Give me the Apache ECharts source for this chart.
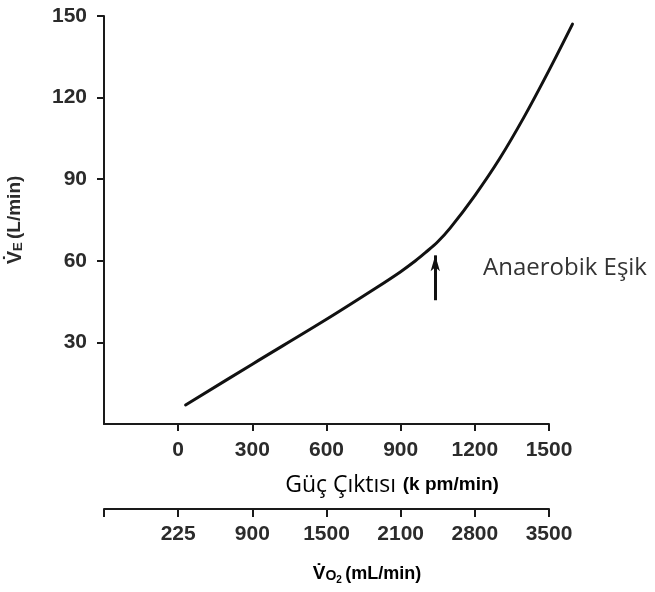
<!DOCTYPE html>
<html>
<head>
<meta charset="utf-8">
<script src="https://cdn.jsdelivr.net/npm/echarts@6/dist/echarts.min.js"></script>
<style>
  html, body { margin: 0; padding: 0; background: #fff; }
  #chart { width: 655px; height: 592px; }
</style>
</head>
<body>
<div id="chart"></div>
<script>
// Work-rate ticks (kpm/min) and the matching VO2 labels (mL/min) on the second scale
const powerTicks = [0, 300, 600, 900, 1200, 1500];
const vo2Labels = ['225', '900', '1500', '2100', '2800', '3500'];
const veTicks = [30, 60, 90, 120, 150];

// Ventilation curve: work rate (kpm/min) vs VE (L/min)
const workRate    = [30, 300, 600, 800, 900, 960, 1000, 1050, 1100, 1200, 1300, 1400, 1500, 1595];
const ventilation = [7, 22, 38.5, 50, 56, 60, 63, 67, 72, 84, 97.5, 113, 130, 147];

// Arrow marking the anaerobic threshold: x position, bottom and tip (L/min)
const thresholdX = [1040];
const thresholdY = [45.5, 62];

const ink = '#1a1a1a';
const textInk = '#2b2b2b';
const tickFont = { fontFamily: 'Liberation Sans', fontWeight: 'bold', fontSize: 21, color: textInk };

const chart = echarts.init(document.getElementById('chart'), null, { renderer: 'canvas' });

chart.setOption({
  animation: false,
  backgroundColor: '#fff',
  grid: { left: 104, right: 106, top: 16, bottom: 168, outerBoundsMode: 'none', containLabel: false },
  xAxis: [
    {
      type: 'value', min: -300, max: 1500, interval: 300, position: 'bottom',
      splitLine: { show: false },
      axisLine: { lineStyle: { color: ink, width: 2 } },
      axisTick: { customValues: powerTicks, length: 7, lineStyle: { color: ink, width: 2 } },
      axisLabel: Object.assign({ customValues: powerTicks, margin: 16,
        formatter: v => (v < 0 ? '' : String(v)) }, tickFont)
    },
    {
      type: 'value', min: -300, max: 1500, interval: 300, position: 'bottom', offset: 85,
      splitLine: { show: false },
      axisLine: { onZero: false, lineStyle: { color: ink, width: 2 } },
      axisTick: { length: 8, lineStyle: { color: ink, width: 2 } },
      axisLabel: Object.assign({ margin: 15,
        formatter: v => { const i = powerTicks.indexOf(v); return i < 0 ? '' : vo2Labels[i]; } }, tickFont)
    }
  ],
  yAxis: {
    type: 'value', min: 0, max: 150, interval: 30,
    splitLine: { show: false },
    axisLine: { onZero: false, lineStyle: { color: ink, width: 2 } },
    axisTick: { customValues: veTicks, length: 7, lineStyle: { color: ink, width: 2 } },
    axisLabel: Object.assign({ customValues: veTicks, margin: 17 }, tickFont),
    name: '{v|V̇}{s|E} {u|(L/min)}',
    nameLocation: 'middle',
    nameRotate: 90,
    nameGap: 79,
    nameTextStyle: {
      rich: {
        v: { fontFamily: 'Liberation Sans', fontWeight: 'bold', fontSize: 20, color: textInk },
        s: { fontFamily: 'Liberation Sans', fontWeight: 'bold', fontSize: 13, color: textInk, padding: [6, 0, 0, 0] },
        u: { fontFamily: 'Liberation Sans', fontWeight: 'bold', fontSize: 19, color: textInk }
      }
    }
  },
  series: [
    {
      // drawn as one smoothed polyline so the top end may run past the axis end
      type: 'custom',
      xAxisIndex: 0,
      clip: false,
      silent: true,
      data: workRate.map((x, i) => [x, ventilation[i]]),
      encode: { x: 0, y: 1 },
      renderItem: (params, api) => {
        if (params.dataIndex !== 0) return null;
        const pts = workRate.map((x, i) => api.coord([x, ventilation[i]]));
        return {
          type: 'polyline',
          shape: { points: pts, smooth: 0.35 },
          style: { stroke: '#111', lineWidth: 3, fill: null, lineCap: 'round', lineJoin: 'round' }
        };
      },
      markLine: {
        silent: true,
        symbol: ['none', 'arrow'],
        symbolSize: [7, 16],
        label: { show: false },
        lineStyle: { color: '#111', width: 3, type: 'solid' },
        data: [[{ coord: [thresholdX[0], thresholdY[0]] }, { coord: [thresholdX[0], thresholdY[1]] }]]
      }
    }
  ],
  graphic: [
    {
      type: 'text', x: 483, y: 268,
      style: { text: 'Anaerobik Eşik', fontFamily: 'Open Sans', fontSize: 24, fill: '#333',
               textAlign: 'left', textVerticalAlign: 'middle' }
    },
    {
      type: 'text', x: 392, y: 485,
      style: {
        text: '{a|Güç Çıktısı}  {b|(k pm/min)}',
        textAlign: 'center', textVerticalAlign: 'middle',
        rich: {
          a: { fontFamily: 'Open Sans', fontSize: 23, color: '#333' },
          b: { fontFamily: 'Liberation Sans', fontWeight: 'bold', fontSize: 19, color: textInk }
        }
      }
    },
    {
      type: 'text', x: 367, y: 574,
      style: {
        text: '{v|V̇}{o|O}{t|2} {u|(mL/min)}',
        textAlign: 'center', textVerticalAlign: 'middle',
        rich: {
          v: { fontFamily: 'Liberation Sans', fontWeight: 'bold', fontSize: 19, color: textInk },
          o: { fontFamily: 'Liberation Sans', fontWeight: 'bold', fontSize: 14, color: textInk, padding: [4, 0, 0, 0] },
          t: { fontFamily: 'Liberation Sans', fontWeight: 'bold', fontSize: 10, color: textInk, padding: [12, 0, 0, 0] },
          u: { fontFamily: 'Liberation Sans', fontWeight: 'bold', fontSize: 18, color: textInk }
        }
      }
    }
  ]
});
</script>
</body>
</html>
